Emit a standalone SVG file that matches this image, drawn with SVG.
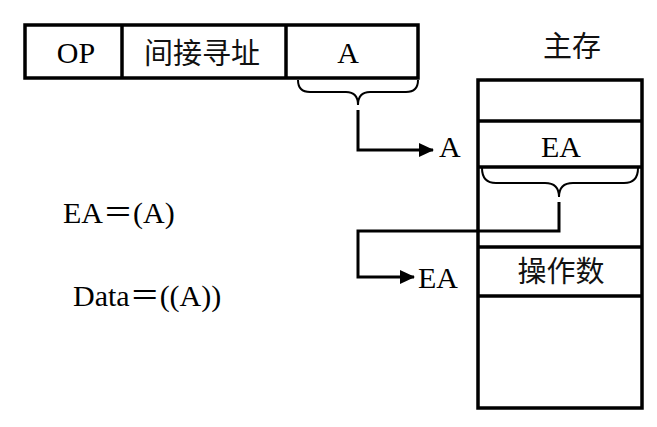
<svg xmlns="http://www.w3.org/2000/svg" width="657" height="427" viewBox="0 0 657 427">
  <defs>
    <marker id="arrow" markerWidth="15" markerHeight="14" refX="14" refY="7" orient="auto" markerUnits="userSpaceOnUse">
      <path d="M0,0 L15,7 L0,14 z" fill="#000"/>
    </marker>
    <style>
      .box { fill: #fff; stroke: #000; stroke-width: 3.5; }
      .sep { stroke: #000; stroke-width: 3.5; }
      .brace { fill: none; stroke: #000; stroke-width: 2; }
      .wire { fill: none; stroke: #000; stroke-width: 3; }
      .lat { font-family: "Liberation Serif", "Times New Roman", "Noto Sans CJK SC", serif; font-size: 30px; fill: #000; }
      .cjk { font-family: "Noto Sans CJK SC", "Noto Sans", sans-serif; font-size: 29px; fill: #111; font-weight: 400; }
    </style>
  </defs>
  <rect width="657" height="427" fill="#fff"/>

  <!-- instruction word -->
  <g id="instruction">
    <rect class="box" x="25" y="25" width="393" height="53"/>
    <line class="sep" x1="122" y1="25" x2="122" y2="78"/>
    <line class="sep" x1="286" y1="25" x2="286" y2="78"/>
    <text class="lat" x="76" y="63" text-anchor="middle">OP</text>
    <text class="cjk" x="202" y="64" text-anchor="middle">间接寻址</text>
    <text class="lat" x="348" y="63" text-anchor="middle">A</text>
  </g>

  <!-- main memory -->
  <g id="memory">
    <text class="cjk" x="572" y="57" text-anchor="middle">主存</text>
    <rect class="box" x="478" y="80" width="164" height="328"/>
    <line class="sep" x1="478" y1="121" x2="642" y2="121"/>
    <line class="sep" x1="478" y1="167" x2="642" y2="167"/>
    <line class="sep" x1="478" y1="247" x2="642" y2="247"/>
    <line class="sep" x1="478" y1="296" x2="642" y2="296"/>
    <text class="lat" x="561" y="157" text-anchor="middle">EA</text>
    <text class="cjk" x="561" y="282" text-anchor="middle">操作数</text>
  </g>

  <!-- formulas -->
  <g id="formulas">
    <text class="lat" x="63" y="223">EA＝(A)</text>
    <text class="lat" x="73" y="306">Data＝((A))</text>
  </g>

  <!-- arrow labels -->
  <g id="label-a">
    <text class="lat" x="439" y="157">A</text>
  </g>
  <g id="label-ea">
    <text class="lat" x="418" y="288">EA</text>
  </g>

  <!-- connectors -->
  <g id="connectors">
    <path class="brace" d="M298,80 Q298,92 310,92 L346,92 Q358,92 358,105 Q358,92 370,92 L406,92 Q418,92 418,80"/>
    <path class="wire" d="M358,110 L358,150 L433,150" marker-end="url(#arrow)"/>
    <path class="brace" d="M482,168 Q482,183 496,183 L545,183 Q559,183 559,197 Q559,183 573,183 L624,183 Q638,183 638,168"/>
    <path class="wire" d="M559,202 L559,231 L358,231 L358,277 L414,277" marker-end="url(#arrow)"/>
  </g>
</svg>
